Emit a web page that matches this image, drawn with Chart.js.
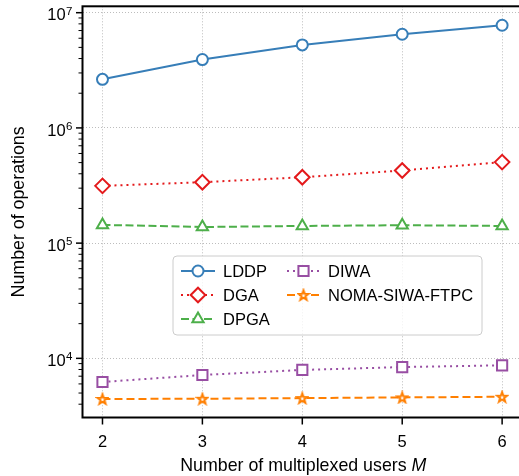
<!DOCTYPE html>
<html>
<head>
<meta charset="utf-8">
<script src="https://cdn.jsdelivr.net/npm/chart.js@4.4.1/dist/chart.umd.min.js"></script>
<style>
  html, body { margin: 0; padding: 0; overflow: hidden; background: #fff; }
  #wrap { width: 530px; height: 476px; }
</style>
</head>
<body>
<div id="wrap"><canvas id="opsChart" width="530" height="476"></canvas></div>
<script>
// ===== DATA =====
const users = [2, 3, 4, 5, 6];
const lddp = [2.64e6, 3.92e6, 5.25e6, 6.5e6, 7.78e6];
const dga = [3.14e5, 3.38e5, 3.73e5, 4.27e5, 5.05e5];
const dpga = [1.44e5, 1.38e5, 1.41e5, 1.43e5, 1.41e5];
const diwa = [6.23e3, 7.17e3, 7.93e3, 8.4e3, 8.7e3];
const nomaSiwa = [4.44e3, 4.46e3, 4.52e3, 4.58e3, 4.64e3];

const xTickValues = [2, 3, 4, 5, 6];
const yMajorTicks = [1e4, 1e5, 1e6, 1e7];
const yTickExponents = ['4', '5', '6', '7'];

const FONT = '"Liberation Sans", Arial, Helvetica, sans-serif';
const TITLE_PX = 17.8;

// outlined star like matplotlib '*' with hollow face
function makeStar(color) {
  const c = document.createElement('canvas');
  c.width = 14; c.height = 14;
  const g = c.getContext('2d');
  g.beginPath();
  for (let i = 0; i < 10; i++) {
    const r = i % 2 ? 2.1 : 5.2;
    const a = -Math.PI / 2 + i * Math.PI / 5;
    const px = 7 + r * Math.cos(a), py = 7.5 + r * Math.sin(a);
    i ? g.lineTo(px, py) : g.moveTo(px, py);
  }
  g.closePath();
  g.fillStyle = '#fff';
  g.fill();
  g.lineWidth = 2;
  g.strokeStyle = color;
  g.stroke();
  return c;
}

const series = [
  { label: 'LDDP', values: lddp, color: '#377eb8', dash: [], marker: 'circle', radius: 5.5 },
  { label: 'DGA', values: dga, color: '#e41a1c', dash: [2, 4], marker: 'rectRot', radius: 7.3 },
  { label: 'DPGA', values: dpga, color: '#4daf4a', dash: [8, 3.5], marker: 'triangle', radius: 6.5 },
  { label: 'DIWA', values: diwa, color: '#984ea3', dash: [2, 4], marker: 'rect', radius: 7.2 },
  { label: 'NOMA-SIWA-FTPC', values: nomaSiwa, color: '#ff7f00', dash: [8, 4], marker: makeStar('#ff7f00'), radius: 6 }
];

// ===== AXES DECORATION (spines, log ticks, mathtext-like labels) =====
const axesDecor = {
  id: 'axesDecor',
  afterDatasetsDraw(chart) {
    const { ctx, chartArea: a, scales: { x, y } } = chart;
    ctx.save();
    ctx.setLineDash([]);
    ctx.strokeStyle = '#000';
    ctx.fillStyle = '#000';

    // y minor + major ticks
    for (let e = 3; e <= 7; e++) {
      for (let k = 1; k <= 9; k++) {
        const v = k * Math.pow(10, e);
        if (v < y.min || v > y.max) continue;
        const py = y.getPixelForValue(v);
        ctx.lineWidth = k === 1 ? 1.5 : 1;
        ctx.beginPath();
        ctx.moveTo(a.left, py);
        ctx.lineTo(a.left - (k === 1 ? 6.5 : 4), py);
        ctx.stroke();
      }
    }
    // x ticks
    ctx.lineWidth = 1.5;
    xTickValues.forEach(v => {
      const px = x.getPixelForValue(v);
      ctx.beginPath();
      ctx.moveTo(px, a.bottom);
      ctx.lineTo(px, a.bottom + 7);
      ctx.stroke();
    });

    // spines
    ctx.lineWidth = 2;
    ctx.strokeRect(a.left, a.top, a.right - a.left, a.bottom - a.top);

    // y tick labels 10^n
    yMajorTicks.forEach((v, i) => {
      const py = y.getPixelForValue(v);
      const right = a.left - 10;
      ctx.font = '11.5px ' + FONT;
      const ew = ctx.measureText(yTickExponents[i]).width;
      ctx.textAlign = 'left';
      ctx.textBaseline = 'alphabetic';
      ctx.fillText(yTickExponents[i], right - ew, py + 2);
      ctx.font = '16.5px ' + FONT;
      ctx.textAlign = 'right';
      ctx.fillText('10', right - ew - 0.5, py + 7.8);
    });

    // x tick labels
    ctx.font = '16.5px ' + FONT;
    ctx.textAlign = 'center';
    xTickValues.forEach(v => {
      ctx.fillText(String(v), x.getPixelForValue(v), a.bottom + 29.5);
    });

    // x title with italic M
    const part1 = 'Number of multiplexed users ';
    ctx.font = TITLE_PX + 'px ' + FONT;
    const w1 = ctx.measureText(part1).width;
    ctx.font = 'italic ' + TITLE_PX + 'px ' + FONT;
    const w2 = ctx.measureText('M').width;
    const cx = (a.left + a.right) / 2 + 1;
    const startX = cx - (w1 + w2) / 2;
    ctx.textAlign = 'left';
    ctx.font = TITLE_PX + 'px ' + FONT;
    ctx.fillText(part1, startX, a.bottom + 53);
    ctx.font = 'italic ' + TITLE_PX + 'px ' + FONT;
    ctx.fillText('M', startX + w1, a.bottom + 53);

    // y title
    ctx.save();
    ctx.translate(24, (a.top + a.bottom) / 2);
    ctx.rotate(-Math.PI / 2);
    ctx.font = TITLE_PX + 'px ' + FONT;
    ctx.textAlign = 'center';
    ctx.fillText('Number of operations', 0, 0);
    ctx.restore();

    ctx.restore();
  }
};

// ===== LEGEND (inside axes, 2 columns) =====
const innerLegend = {
  id: 'innerLegend',
  afterDraw(chart) {
    const { ctx } = chart;
    const box = { x: 173, y: 256, w: 309, h: 79 };
    ctx.save();
    ctx.beginPath();
    ctx.roundRect(box.x, box.y, box.w, box.h, 4);
    ctx.fillStyle = 'rgba(255,255,255,0.8)';
    ctx.fill();
    ctx.lineWidth = 1;
    ctx.strokeStyle = '#cccccc';
    ctx.stroke();

    const cols = [{ x0: 181, x1: 215, tx: 223 }, { x0: 287, x1: 320, tx: 328 }];
    const rows = [271, 295, 319];
    series.forEach((s, i) => {
      const col = cols[i < 3 ? 0 : 1];
      const ry = rows[i < 3 ? i : i - 3];
      ctx.setLineDash(s.dash);
      ctx.lineWidth = 2;
      ctx.strokeStyle = s.color;
      ctx.beginPath();
      ctx.moveTo(col.x0, ry);
      ctx.lineTo(col.x1, ry);
      ctx.stroke();
      ctx.setLineDash([]);
      ctx.fillStyle = '#fff';
      Chart.helpers.drawPoint(ctx, { pointStyle: s.marker, radius: s.radius, rotation: 0, borderWidth: 2 },
        (col.x0 + col.x1) / 2, ry);
      ctx.fillStyle = '#000';
      ctx.font = '16.5px ' + FONT;
      ctx.textAlign = 'left';
      ctx.textBaseline = 'alphabetic';
      ctx.fillText(s.label, col.tx, ry + 6);
    });
    ctx.restore();
  }
};

const gridStyle = { drawTicks: false, color: '#bdbdbd', lineWidth: 1 };
const borderStyle = { display: false, dash: [1, 2] };

new Chart(document.getElementById('opsChart'), {
  type: 'line',
  data: {
    datasets: series.map(s => ({
      label: s.label,
      data: users.map((u, i) => ({ x: u, y: s.values[i] })),
      borderColor: s.color,
      borderWidth: 2,
      borderDash: s.dash,
      borderCapStyle: 'butt',
      pointStyle: s.marker,
      pointRadius: s.radius,
      pointBorderWidth: 2,
      pointBorderColor: s.color,
      pointBackgroundColor: '#fff',
      fill: false,
      tension: 0
    }))
  },
  options: {
    responsive: false,
    animation: false,
    devicePixelRatio: 1,
    layout: { autoPadding: false, padding: { left: 82.5, top: 6.3, right: 7.9, bottom: 58.5 } },
    plugins: { legend: { display: false }, tooltip: { enabled: false } },
    scales: {
      x: {
        type: 'linear', min: 1.8, max: 6.2, bounds: 'data',
        afterBuildTicks: s => { s.ticks = xTickValues.map(v => ({ value: v })); },
        ticks: { display: false },
        border: borderStyle,
        grid: gridStyle
      },
      y: {
        type: 'logarithmic', min: Math.pow(10, 3.4866), max: Math.pow(10, 7.0555), bounds: 'data',
        afterBuildTicks: s => { s.ticks = yMajorTicks.map(v => ({ value: v })); },
        ticks: { display: false },
        border: borderStyle,
        grid: gridStyle
      }
    }
  },
  plugins: [axesDecor, innerLegend]
});
</script>
</body>
</html>
